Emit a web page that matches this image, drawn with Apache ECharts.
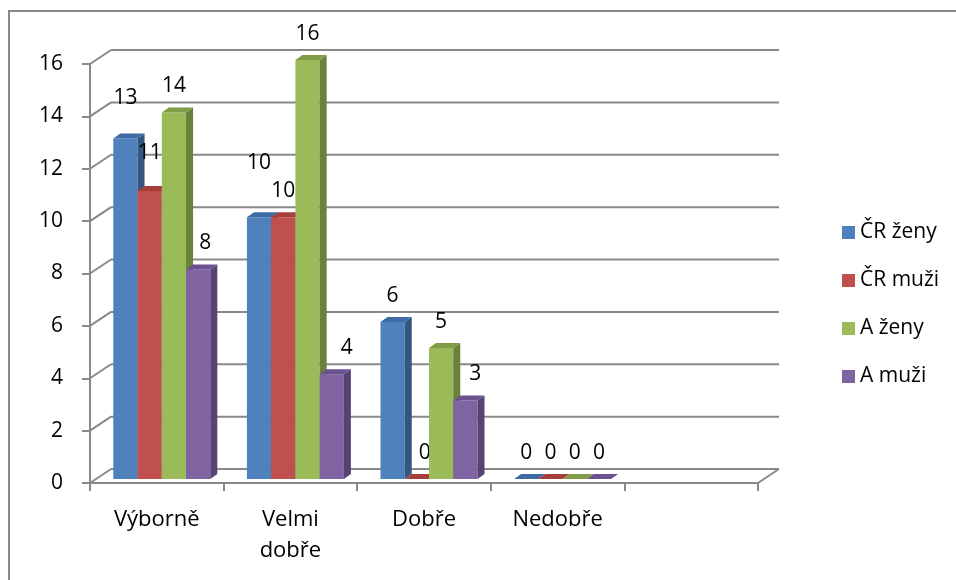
<!DOCTYPE html>
<html>
<head>
<meta charset="utf-8">
<script src="https://cdn.jsdelivr.net/npm/echarts@6/dist/echarts.min.js"></script>
<style>
html,body{margin:0;padding:0;background:#fff;}
#c{width:956px;height:580px;}
</style>
</head>
<body>
<div id="c"></div>
<script>
// ---- data ----
const categories = ['Výborně', 'Velmi\ndobře', 'Dobře', 'Nedobře', ''];
const seriesNames = ['ČR ženy', 'ČR muži', 'A ženy', 'A muži'];
const crZeny = [13, 10, 6, 0];
const crMuzi = [11, 10, 0, 0];
const aZeny  = [14, 16, 5, 0];
const aMuzi  = [8, 4, 3, 0];
const yTicks = [0, 2, 4, 6, 8, 10, 12, 14, 16];
// label nudges [dx, dy] per series per category (Excel moved some labels)
const labelNudgeCrZeny = [[0, -15], [0, -28], [0, 0], [0, 0]];
const labelNudgeCrMuzi = [[0, -12], [0, 0], [8, 0], [0, 0]];
const labelNudgeAZeny  = [[0, 0], [0, 0], [0, 0], [0, 0]];
const labelNudgeAMuzi  = [[7, 0], [15, 0], [10, 0], [0, 0]];

// ---- styles ----
const FONT = '"Open Sans", "Liberation Sans", sans-serif';
const frontColors = ['#4F81BD', '#C0504D', '#9BBB59', '#8064A2'];
const sideColors  = ['#34567F', '#8A3532', '#6A8239', '#564273'];
const topColors   = ['#3F6BA3', '#A63F3C', '#809C46', '#6A5190'];
const GRID_COLOR = '#898989';
const WALL_DX = 21, WALL_DY = -14;   // depth of the back wall
const BAR_DX = 5, BAR_DY = -4;       // bar row position inside the depth
const DEPTH_DX = 7, DEPTH_DY = -5;   // depth of each bar
const CAT_GAP = 0.274;

const allValues = [crZeny, crMuzi, aZeny, aMuzi];
const allNudges = [labelNudgeCrZeny, labelNudgeCrMuzi, labelNudgeAZeny, labelNudgeAMuzi];

function wallRender(params, api) {
  const v = api.value(1);
  const band = api.size([1, 0])[0];
  const p = api.coord([0, v]);
  const left = p[0] - band / 2;
  const right = left + band * categories.length;
  const y = p[1];
  const ls = { stroke: GRID_COLOR, lineWidth: 2 };
  const children = [
    { type: 'line', shape: { x1: left, y1: y, x2: left + WALL_DX, y2: y + WALL_DY }, style: ls },
    { type: 'line', shape: { x1: left + WALL_DX, y1: y + WALL_DY, x2: right + WALL_DX, y2: y + WALL_DY }, style: ls }
  ];
  if (v === 0) {
    children.push({ type: 'line', shape: { x1: right, y1: y, x2: right + WALL_DX, y2: y + WALL_DY }, style: ls });
  }
  return { type: 'group', children: children };
}

function barRender(si) {
  return function (params, api) {
    const c = api.value(0), v = api.value(1);
    const band = api.size([1, 0])[0];
    const bw = band * (1 - CAT_GAP) / 4;
    const base = api.coord([c, 0]);
    const x0 = base[0] - 2 * bw + si * bw + BAR_DX;
    const x1 = x0 + bw;
    const yb = base[1] + BAR_DY;
    const yt = api.coord([c, v])[1] + BAR_DY;
    const children = [];
    if (v > 0) {
      children.push({ type: 'rect', shape: { x: x0, y: yt, width: bw, height: yb - yt }, style: { fill: frontColors[si] } });
      children.push({ type: 'polygon', shape: { points: [[x1, yt], [x1 + DEPTH_DX, yt + DEPTH_DY], [x1 + DEPTH_DX, yb + DEPTH_DY], [x1, yb]] }, style: { fill: sideColors[si] } });
    }
    children.push({ type: 'polygon', shape: { points: [[x0, yt], [x1, yt], [x1 + DEPTH_DX, yt + DEPTH_DY], [x0 + DEPTH_DX, yt + DEPTH_DY]] }, style: { fill: topColors[si] } });
    const nd = allNudges[si][c] || [0, 0];
    children.push({
      type: 'text',
      style: {
        text: String(v), x: x0 + bw / 2 + nd[0], y: yt - 26 + nd[1],
        align: 'center', verticalAlign: 'middle',
        textAlign: 'center', textVerticalAlign: 'middle',
        fontSize: 21, fontFamily: FONT, fill: '#000'
      },
      z2: 10
    });
    return { type: 'group', children: children };
  };
}

const series = [{
  type: 'custom',
  name: '_wall',
  z: 1,
  silent: true,
  renderItem: wallRender,
  encode: { x: 0, y: 1 },
  data: yTicks.map(t => [0, t])
}];
seriesNames.forEach((name, si) => {
  series.push({
    type: 'custom',
    name: name,
    z: 2 + si,
    renderItem: barRender(si),
    itemStyle: { color: frontColors[si] },
    encode: { x: 0, y: 1 },
    data: allValues[si].map((v, ci) => [ci, v])
  });
});

const chart = echarts.init(document.getElementById('c'), null, { renderer: 'canvas' });
chart.setOption({
  animation: false,
  backgroundColor: '#fff',
  graphic: [{
    type: 'rect', silent: true,
    shape: { x: 9, y: 11, width: 1100, height: 800 },
    style: { fill: null, stroke: '#8a8a8a', lineWidth: 2 }
  }],
  grid: { left: 90, top: 64, width: 668, height: 419, containLabel: false },
  xAxis: {
    type: 'category',
    data: categories,
    boundaryGap: true,
    axisLine: { show: true, lineStyle: { color: GRID_COLOR, width: 2 } },
    axisTick: { show: true, length: 8, alignWithLabel: false, lineStyle: { color: GRID_COLOR, width: 2 } },
    axisLabel: { margin: 21, fontSize: 22, fontFamily: FONT, color: '#000', lineHeight: 31, interval: 0 },
    splitLine: { show: false }
  },
  yAxis: {
    type: 'value',
    min: 0, max: 16, interval: 2,
    axisLine: { show: true, lineStyle: { color: GRID_COLOR, width: 2 } },
    axisTick: { show: true, length: 8, lineStyle: { color: GRID_COLOR, width: 2 } },
    axisLabel: { margin: 27, fontSize: 21, fontFamily: FONT, color: '#000' },
    splitLine: { show: false }
  },
  legend: {
    data: seriesNames,
    orient: 'vertical',
    left: 837, top: 217,
    itemWidth: 13, itemHeight: 13, itemGap: 27,
    icon: 'rect',
    textStyle: { fontSize: 21, fontFamily: FONT, color: '#000', lineHeight: 21 }
  },
  series: series
});
</script>
</body>
</html>
